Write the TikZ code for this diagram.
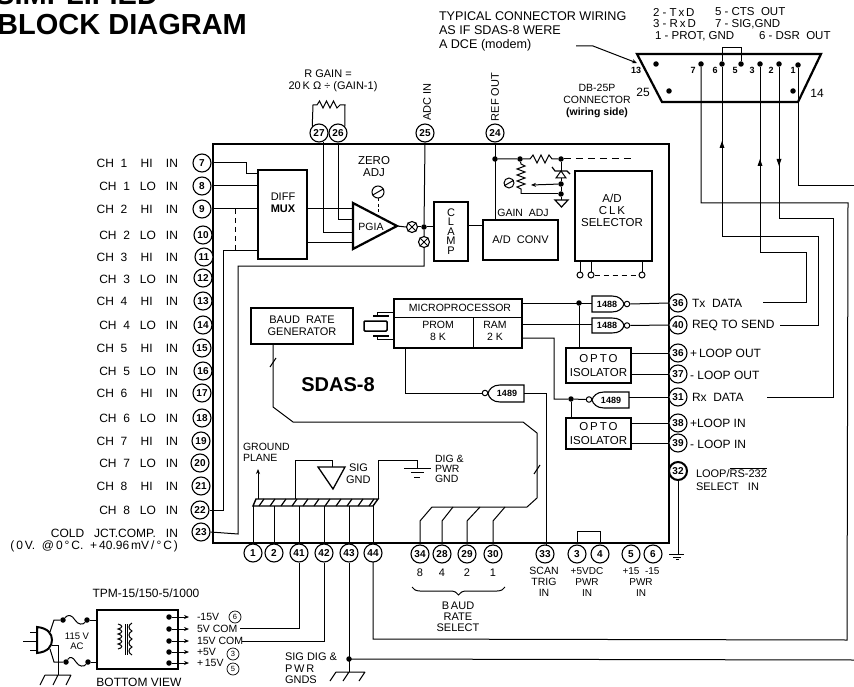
\documentclass[tikz,border=0pt]{standalone}
\usepackage{fontspec}
\setmainfont{Liberation Sans}
\usetikzlibrary{arrows.meta,decorations.pathreplacing}
\tikzset{
  wire/.style={line width=1pt,line join=miter},
  heavy/.style={line width=2.2pt,line join=miter},
  med/.style={line width=1.4pt,line join=miter},
  pin/.style={circle,draw,line width=1.1pt,fill=white,inner sep=0pt,minimum size=18pt,font=\fontsize{10}{10}\selectfont\bfseries},
  tinypin/.style={circle,draw,line width=0.7pt,inner sep=0pt,minimum size=12pt,font=\fontsize{7.5}{8}\selectfont},
  blk/.style={draw,line width=2pt,rectangle,inner sep=0pt,outer sep=0pt,align=center,font=\fontsize{11}{13}\selectfont},
  txt/.style={inner sep=0pt,outer sep=0pt,font=\fontsize{11}{12.5}\selectfont,align=center},
  lft/.style={txt,anchor=west,align=left},
  chlab/.style={txt,anchor=east,font=\fontsize{12}{13}\selectfont},
  rlab/.style={txt,anchor=west,align=left,font=\fontsize{12}{13}\selectfont},
  ann/.style={txt,anchor=west,align=left,font=\fontsize{12.6}{14}\selectfont},
  dot/.style={circle,fill,inner sep=0pt,minimum size=5.5pt},
  termc/.style={circle,draw,line width=1pt,inner sep=0pt,minimum size=6pt},
  xcirc/.style={circle,draw,line width=1.1pt,inner sep=0pt,minimum size=11pt},
  potc/.style={circle,draw,line width=1pt,inner sep=0pt,minimum size=12pt},
  arr/.style={wire,-{Stealth[length=5pt,width=4pt]}},
}
\newcommand{\chhi}[1]{CH\ \ #1\ \ \ \ HI\ \ \ \ IN}
\newcommand{\chlo}[1]{CH\ \ #1\ \ \ LO\ \ \ IN}
\begin{document}
\begin{tikzpicture}[x=1pt,y=-1pt]
\useasboundingbox (0,0) rectangle (854,687);
\clip (0,0) rectangle (854,687);
\fill[white] (0,0) rectangle (854,687);

% title
\node[inner sep=0,anchor=base west,font=\fontsize{29}{29}\selectfont\bfseries] (ttl1) at (-5,5) {SIMPLIFIED};
\node[inner sep=0,anchor=base west,font=\fontsize{29}{29}\selectfont\bfseries] (ttl2) at (-3,35) {BLOCK DIAGRAM};

% annotation
\node[ann] (a1) at (439,16) {TYPICAL CONNECTOR WIRING};
\node[ann] (a2) at (439,30) {AS IF SDAS-8 WERE};
\node[ann] (a3) at (439,45) {A DCE (modem)};
\foreach \n/\x/\y/\t in {l1/653/12/2 - T\,x\,D, l2/715/12/5 - CTS\ \ OUT, l3/653/24/3 - R\,x\,D, l4/715/24/7 - SIG{,}GND, l5/655/36/1 - PROT{,} GND, l6/759/36/6 - DSR\ \ OUT}
  \node[txt,anchor=west,font=\fontsize{11.5}{12}\selectfont] (\n) at (\x,\y) {\t};

% connector
\coordinate (cTL) at (637,54);
\coordinate (cTR) at (821,54);
\coordinate (cBR) at (798,102);
\coordinate (cBL) at (662,102);
\draw[heavy] (cTL) -- (cTR) -- (cBR) -- (cBL) -- cycle;
\foreach \n/\x/\y in {cd13/656/64,cp7/701/64,cp6/722/64,cp5/741/64,cp3/760/64,cp2/779/64,cp1/798/65,cd25/669/91,cd14/793/91}
  \node[dot] (\n) at (\x,\y) {};
\foreach \n/\x/\y/\t in {cn13/636/70/13,cn7/693/70/7,cn6/715/70/6,cn5/735/70/5,cn3/752/70/3,cn2/771/70/2,cn1/793/70/1}
  \node[txt,font=\fontsize{9}{9}\selectfont\bfseries] (\n) at (\x,\y) {\t};
\node[txt,font=\fontsize{12}{12}\selectfont] (cn25) at (643,92) {25};
\node[txt,font=\fontsize{12}{12}\selectfont] (cn14) at (817,93) {14};
\node[txt,font=\fontsize{10.5}{12}\selectfont] (dbt) at (597,101) {DB-25P\\CONNECTOR\\{\bfseries (wiring side)}};
\draw[wire] (cp6.north) -- (722,48) -- (741,48) -- (cp5.north);
\draw[arr] (576,46) -- (593,46) -- (cTL |- 0,63) ;

% wires from connector
\draw[wire] (cp1) -- (798,186) -- (854,186);
\draw[wire] (cp7) -- (701,203) -- (848,203) -- (847,640) -- (373,639) -- (373,562);
\draw[wire] (cp6) -- (722,237) -- (818,237) -- (818,325) -- (780,325);
\draw[wire] (cp3) -- (760,252) -- (806,252) -- (806,302) -- (763,302);
\draw[wire] (cp2) -- (779,219) -- (833,219) -- (833,397) -- (767,397);
\fill (722,141) -- (719.5,148) -- (724.5,148) -- cycle;
\fill (760,159) -- (757.5,166) -- (762.5,166) -- cycle;
\fill (779,166) -- (776.5,159) -- (781.5,159) -- cycle;
\draw[wire] (349,659) -- (854,660);

% main box
\node[draw,line width=2.6pt,rectangle,inner sep=0pt,outer sep=0pt,minimum width=456pt,minimum height=399pt] (main) at (441,343.5) {};

% pins
\foreach \n/\x/\y in {7/202/163,8/202/186,9/202/209,10/203/235,11/204/257,12/203/278,13/203/301,14/203/325,15/202/348,16/203/371,17/202/393,18/202/418,19/201/441,20/200/463,21/201/486,22/200/510,23/201/532,
  27/319/133,26/338/133,25/425/133,24/495/133,
  1/253/553,2/274/553,41/299/553,42/324/553,43/349/553,44/373/553,34/420/554,28/442/554,29/467/554,30/493/554,33/545/554,3/577/554,4/600/554,5/631/554,6/653/554,
  40/678/325,36/678/353,37/678/374,31/678/397,38/678/423,39/678/443}
  \node[pin] (p\n) at (\x,\y) {\n};
\node[pin] (p35) at (678,303) {36};
\node[pin,line width=2pt] (p32) at (678,471) {32};

% left labels
\foreach \n/\y/\t in {a/163/\chhi{1},b/186/\chlo{1},c/209/\chhi{2},d/235/\chlo{2},e/257/\chhi{3},f/279/\chlo{3},g/301/\chhi{4},h/325/\chlo{4},i/348/\chhi{5},j/371/\chlo{5},k/393/\chhi{6},m/418/\chlo{6},n/441/\chhi{7},o/463/\chlo{7},q/486/\chhi{8},r/510/\chlo{8},s/533/COLD\ \ \ JCT.COMP.\ \ \ IN,u/546/{(\,0\,V.\ \ @\,0\,°\,C.\ \ +\,40.96\,mV\,/\,°\,C\,)}}
  \node[chlab] (ll\n) at (178,\y) {\t};

% right labels
\foreach \n/\x/\y/\t in {ra/692/303/Tx\ \ DATA,rb/692/325/REQ\ TO\ SEND,rc/690/353/+\,LOOP\ OUT,rd/690/375/-\ LOOP\ OUT,re/692/397/Rx\ \ DATA,rf/690/423/+LOOP\ IN,rg/690/444/-\ LOOP\ IN}
  \node[rlab] (\n) at (\x,\y) {\t};
\node[rlab,font=\fontsize{11}{12.5}\selectfont] (rh) at (696,479) {LOOP/$\overline{\hbox{RS-232}}$\\SELECT\ \ \ IN};

% top labels
\node[txt] (rg1) at (328,74) {R GAIN =};
\node[txt] (rg2) at (333,87) {20\,K Ω ÷ (GAIN-1)};
\node[txt,rotate=90] (adcin) at (427,102) {ADC IN};
\node[txt,rotate=90] (refout) at (495,97) {REF OUT};

% R gain resistor
\draw[wire] (p27.135) -- (313,105) -- (317,105) -- (319.5,101) -- (323,108) -- (326.5,101) -- (330,108) -- (333.5,101) -- (337,108) -- (340,105) -- (345,105) -- (p26.45);

% diff mux
\node[blk] (mux) at (282.5,214.5) [minimum width=49pt,minimum height=89pt] {};
\node[txt,font=\fontsize{11}{12}\selectfont] (muxt) at (283,203) {DIFF\\\bfseries MUX};
\draw[wire] (p7.east) -- (246,163) -- (246,174) -- (mux.west |- 0,174);
\draw[wire] (p8.east) -- (p8.east -| mux.west);
\draw[wire] (p9.east) -- (p9.east -| mux.west);
\draw[wire,dashed,dash pattern=on 5pt off 4pt] (235,209) -- (235,250);
\draw[wire] (mux.west |- 0,250) -- (223,250) -- (223,510) -- (p22.east);
\draw[wire] (p23.east) -- (238,534) -- (238,266) -- (424,266) -- (424,248);

% PGIA
\coordinate (pgT) at (353,203);
\coordinate (pgB) at (353,249);
\coordinate (pgO) at (397,226);
\draw[heavy] (pgT) -- (pgB) -- (pgO) -- cycle;
\node[txt,font=\fontsize{10.5}{11}\selectfont] (pgia) at (371,227) {PGIA};
\draw[wire] (mux.east |- 0,209) -- (353,209);
\draw[wire] (mux.east |- 0,243) -- (353,243);
\draw[wire] (p26.south) -- (338,220) -- (353,220);
\draw[wire] (323,142) -- (323,233) -- (353,233);
\node[txt,font=\fontsize{11.5}{12}\selectfont] (zadj) at (374,167) {ZERO\\ADJ};
\node[potc] (zpot) at (378,192) {};
\draw[wire] (zpot.30) -- (zpot.210);
\draw[wire,dashed,dash pattern=on 3pt off 2.5pt] (zpot.south) -- (378,212);

% X nodes
\node[xcirc] (x1) at (412,227) {};
\node[xcirc] (x2) at (424,242) {};
\draw[wire] (x1.45) -- (x1.225) (x1.135) -- (x1.315) (x2.45) -- (x2.225) (x2.135) -- (x2.315);
\draw[wire] (pgO) -- (x1.west);
\node[dot] (jx) at (424,227) {};
\draw[wire] (x1.east) -- (jx);
\draw[wire] (p25.south) -- (jx) -- (x2.north);

% clamp
\node[blk,minimum width=34pt,minimum height=59pt,font=\fontsize{11}{9.4}\selectfont] (clamp) at (451,231.5) {C\\L\\A\\M\\P};
\draw[wire] (jx) -- (clamp.west |- jx);
% A/D
\node[blk,minimum width=75pt,minimum height=40pt,font=\fontsize{11}{13}\selectfont] (adc) at (520.5,240) {A/D\ \ CONV};
\draw[wire] (clamp.east |- 0,226) -- (adc.west |- 0,226);
\node[txt,font=\fontsize{10.5}{12}\selectfont] (gadj) at (523,213) {GAIN\ \ ADJ};
\draw[wire] (p24.south) -- (adc.north -| p24.south);
\node[dot] (j24) at (495,159) {};
\node[dot] (j2) at (520,159) {};
\node[dot] (j3) at (561,159) {};
\draw[wire] (j24) -- (j2) -- (530,159) -- (533,155) -- (537,163) -- (541,155) -- (545,163) -- (549,155) -- (552,159) -- (j3);
\draw[wire,dashed,dash pattern=on 7pt off 5pt] (j3) -- (635,159);
\draw[wire] (j2) -- (521,164) -- (525,166) -- (517,169) -- (525,172) -- (517,175) -- (525,178) -- (517,181) -- (525,184) -- (517,187) -- (521,189) -- (521,194);
\node[potc,minimum size=10pt] (gpot) at (509,183) {};
\draw[wire] (gpot.30) -- (gpot.210);
\node[dot] (j5) at (561,184) {};
\node[dot] (j6) at (561,194) {};
\draw[wire] (521,194) -- (j6);
\draw[arr] (j5) -- (531,185);
\draw[wire] (j3) -- (561,171);
\draw[wire,fill=white,line width=1pt] (556,178) -- (566,178) -- (561,171) -- cycle;
\draw[wire,line width=1.2pt] (552,167) -- (555,171) -- (567,171) -- (570,174);
\draw[wire] (561,178) -- (j5) -- (j6) -- (561,200);
\draw[wire,line width=1.2pt] (555,200) -- (568,200) -- (561.5,207) -- cycle;

% clk selector
\node[blk,minimum width=77pt,minimum height=90pt] (clk) at (613.5,216) {};
\node[txt,font=\fontsize{11.5}{12}\selectfont] (clkt) at (612,210) {A/D\\C\,L\,K\\SELECTOR};
\node[termc] (t1) at (580,275) {};
\node[termc] (t2) at (591,275) {};
\node[termc] (t3) at (642,275) {};
\draw[wire] (t1.north) -- (t1.north |- clk.south);
\draw[wire] (t2.north) -- (t2.north |- clk.south);
\draw[wire] (t3.north) -- (t3.north |- clk.south);
\draw[wire,dashed,dash pattern=on 5pt off 4pt] (t2.east) -- (t3.west);

% baud rate generator
\node[blk,minimum width=102pt,minimum height=36pt] (baud) at (302,326) {};
\node[txt,font=\fontsize{11}{12}\selectfont] (baudt) at (302,325.5) {BAUD\ \ RATE\\GENERATOR};
% microprocessor
\node[draw,line width=2pt,rectangle,inner sep=0pt,outer sep=0pt,minimum width=128pt,minimum height=49pt] (mp) at (458,323.5) {};
\draw[wire] (mp.west |- 0,317) -- (mp.east |- 0,317);
\draw[wire,line width=1pt] (473,317) -- (473,348);
\node[txt,font=\fontsize{10.5}{12}\selectfont] (mpt) at (460,308) {MICROPROCESSOR};
\node[txt,font=\fontsize{10.5}{12}\selectfont] (prom) at (438,331) {PROM\\8 K};
\node[txt,font=\fontsize{10.5}{12}\selectfont] (ram) at (495,331) {RAM\\2 K};
% crystal
\draw[line width=1.5pt,rounded corners=1pt] (364,321) rectangle (387,331);
\draw[wire,line width=1.1pt] (373,316) -- (389,316) (373,336) -- (389,336);
\draw[wire] (377,316) -- (377,312) -- (mp.west |- 0,312);
\draw[wire] (377,336) -- (377,339) -- (mp.west |- 0,339);

\node[txt,font=\fontsize{20}{20}\selectfont\bfseries] (sdas) at (338,385) {SDAS-8};

% 1488 gates
\draw[wire,line width=1.1pt] (592,296) -- (612,296) .. controls (619,296) and (623,300) .. (624,304) .. controls (623,308) and (619,312) .. (612,312) -- (592,312) -- cycle;
\draw[wire,line width=1.1pt] (592,318) -- (612,318) .. controls (619,318) and (623,321) .. (624,325.5) .. controls (623,330) and (619,333) .. (612,333) -- (592,333) -- cycle;
\node[txt,font=\fontsize{9}{9}\selectfont\bfseries] (g1t) at (607,304) {1488};
\node[txt,font=\fontsize{9}{9}\selectfont\bfseries] (g2t) at (607,325.5) {1488};
\node[termc,minimum size=5.5pt] (g1b) at (627,304) {};
\node[termc,minimum size=5.5pt] (g2b) at (627,325.5) {};
\draw[wire] (mp.east |- 0,303) -- (592,303);
\node[dot] (j7) at (579,303) {};
\draw[wire] (mp.east |- 0,324) -- (592,324);
\draw[wire] (g1b.east) -- (p35.west);
\draw[wire] (g2b.east) -- (p40.west);
% opto
\node[blk,minimum width=65pt,minimum height=35pt,font=\fontsize{11.5}{14}\selectfont] (op1) at (598.5,365.5) {O\,P\,T\,O\\ISOLATOR};
\node[blk,minimum width=65pt,minimum height=31pt,font=\fontsize{11.5}{14}\selectfont] (op2) at (598.5,433.5) {O\,P\,T\,O\\ISOLATOR};
\draw[wire] (j7) -- (j7 |- op1.north);
\draw[wire] (op1.east |- p36) -- (p36.west);
\draw[wire] (op1.east |- p37) -- (p37.west);
\draw[wire] (op2.east |- p38) -- (p38.west);
\draw[wire] (op2.east |- p39) -- (p39.west);
% 1489 right
\draw[wire,line width=1.1pt] (629,392) -- (604,392) .. controls (597,392) and (593,396) .. (592,400) .. controls (593,404) and (597,408) .. (604,408) -- (629,408) -- cycle;
\node[txt,font=\fontsize{9}{9}\selectfont\bfseries] (g3t) at (611,400) {1489};
\node[termc,minimum size=5.5pt] (g3b) at (589,399.5) {};
\node[dot] (j8) at (571,399) {};
\draw[wire] (mp.east |- 0,338) -- (554,338) -- (554,399) -- (j8) -- (g3b.west);
\draw[wire] (j8) -- (j8 |- op2.north);
\draw[wire] (629,397) -- (p31.west);
% 1489 left
\draw[wire,line width=1.1pt] (524,385) -- (500,385) .. controls (493,385) and (489,389) .. (488,393.5) .. controls (489,398) and (493,402) .. (500,402) -- (524,402) -- cycle;
\node[txt,font=\fontsize{9}{9}\selectfont\bfseries] (g4t) at (507,393) {1489};
\node[termc,minimum size=5.5pt] (g4b) at (485,393) {};
\draw[wire] (mp.south -| 405,0) -- (405,393) -- (g4b.west);
\draw[wire] (524,393) -- (546,393) -- (546,545);

% baud wires
\draw[wire] (baud.south -| 273,0) -- (273,407) -- (293,422) -- (523,422) -- (537,433) -- (537,498) -- (527,507) -- (432,507) -- (420,521) -- (p34.north);
\draw[wire] (453,507) -- (442,521) -- (p28.north);
\draw[wire] (480,507) -- (467,521) -- (p29.north);
\draw[wire] (505,507) -- (493,521) -- (p30.north);
\draw[wire] (270,367) -- (276,358);
\draw[wire] (534,474) -- (540,465);

% ground bus
\draw[med] (253,506) -- (256,499) -- (378,499) -- (373,506) -- cycle;
\foreach \hx in {259,270,281,292,303,314,325,336,347,358,369}
  \draw[wire,line width=1.2pt] (\hx,506) -- (\hx+5,499);
\foreach \n in {1,2,41,42,43,44}
  \draw[wire] (p\n.north) -- (p\n.north |- 0,506);
\draw[arr] (258,499) -- (258,469);
\node[txt,anchor=west,align=left,font=\fontsize{10.5}{11.5}\selectfont] (gp) at (243,452.5) {GROUND\\PLANE};
\draw[wire] (295,499) -- (295,460) -- (332,460) -- (332,467);
\draw[line width=1.3pt] (318,467) -- (345,467) -- (333,489) -- cycle;
\node[txt,anchor=west,align=left,font=\fontsize{11}{12}\selectfont] (sg) at (346,474) {\ SIG\\GND};
\draw[wire] (378,499) -- (378,460) -- (417,460) -- (417,468);
\draw[wire] (404,468) -- (431,468) (411,472) -- (424,472) (414,477) -- (420,477);
\node[txt,anchor=west,align=left,font=\fontsize{10.5}{10.2}\selectfont] (dg) at (435,469) {DIG \&\\PWR\\GND};

% pin 3-4 link
\draw[wire] (p3.north |- 0,543) -- (577,531) -- (600,531) -- (p4.north |- 0,543);

% pin 32 ground
\draw[wire] (p32.south) -- (678,554);
\draw[wire] (669,554) -- (684,554) (673,557) -- (681,557) (676,559) -- (679,559);

% bottom labels
\foreach \n/\x/\t in {b8/420/8,b4/442/4,b2/467/2,b1/493/1}
  \node[txt,font=\fontsize{11}{11}\selectfont] (\n) at (\x,573) {\t};
\draw[wire,line width=1pt,decorate,decoration={brace,mirror,amplitude=8pt,raise=0pt}] (412,587) -- (505,587);
\node[txt,font=\fontsize{11}{11.2}\selectfont] (brs) at (458,617) {B\,AUD\\RATE\\SELECT};
\node[txt,font=\fontsize{10.5}{11}\selectfont] (scan) at (544,582) {SCAN\\TRIG\\IN};
\node[txt,font=\fontsize{10}{11}\selectfont] (v5) at (587,582) {+5VDC\\PWR\\IN};
\node[txt,font=\fontsize{10}{11}\selectfont] (v15) at (641,582) {+15\ \ -15\\PWR\\IN};

% pin 41-43 wires
\draw[wire,line width=1pt] (p41.south) -- (299,628) -- (240,628);
\draw[wire,line width=1pt] (p42.south) -- (324,641) -- (242,641);
\node[dot] (j43) at (349,659) {};
\draw[wire,line width=1pt] (p43.south) -- (349,672);
\draw[wire] (336,672) -- (365,672) (336,672) -- (330,681) (349,672) -- (343,681) (365,672) -- (359,681);
\node[txt,anchor=west,align=left,font=\fontsize{11}{11.5}\selectfont] (sdg) at (285,668.5) {SIG DIG \&\\P\,W\,R\\GNDS};

% TPM
\node[txt,font=\fontsize{12}{12}\selectfont] (tpmt) at (146,593) {TPM-15/150-5/1000};
\node[draw,line width=2pt,rectangle,inner sep=0,outer sep=0,minimum width=81pt,minimum height=59pt] (tpm) at (137.5,639.5) {};
\node[txt,font=\fontsize{12}{12}\selectfont] (bv) at (139,682) {BOTTOM VIEW};
\node[txt,font=\fontsize{9.5}{10.5}\selectfont] (ac) at (77,641.5) {115 V\\AC};
% transformer
\draw[line width=1pt] (125,624) -- (125,655) (127.5,624) -- (127.5,655);
\draw[line width=1pt] (118,624) .. controls (123,625) and (123,628) .. (118,629) .. controls (123,630) and (123,633) .. (118,634) .. controls (123,635) and (123,638) .. (118,639) .. controls (123,640) and (123,643) .. (118,644) .. controls (123,645) and (123,648) .. (118,649);
\draw[line width=1pt] (132,623) .. controls (128,625) and (128,629) .. (132,631) .. controls (128,633) and (128,637) .. (132,639) .. controls (128,641) and (128,645) .. (132,647) .. controls (128,649) and (128,653) .. (132,655);
% outputs
\foreach \n/\y/\t in {o1/617/-15V,o2/629/5V COM,o3/641/15V COM,o4/652/+5V,o5/663/+\,15V}{
  \node[dot] (d\n) at (169,\y) {};
  \draw[arr,line width=1pt] (d\n) -- (189,\y);
  \node[txt,anchor=west,font=\fontsize{10.5}{11}\selectfont] (\n) at (197,\y) {\t};
}
\node[tinypin] (s6) at (235,617) {6};
\node[tinypin] (s3) at (233,654) {3};
\node[tinypin] (s5) at (233,669) {5};
% plug
\draw[line width=2pt] (37,627) .. controls (48,628) and (52,634) .. (52,640) .. controls (52,646) and (48,652) .. (37,653) -- cycle;
\draw[wire] (23,641) -- (37,641) (30,632) -- (37,632) (30,650) -- (37,650);
% mains wires
\node[dot] (m1) at (63,620) {};
\node[dot] (m2) at (87,620) {};
\node[dot] (m3) at (66,662) {};
\node[dot] (m4) at (88,662) {};
\draw[wire] (50,632) -- (54,620) -- (m1);
\draw[wire,line width=1pt] (m1) .. controls (68,614) and (72,615) .. (75,620) .. controls (78,625) and (83,625) .. (m2);
\draw[wire] (m2) -- (tpm.west |- m2);
\draw[wire] (50,649) -- (54,662) -- (m3);
\draw[wire,line width=1pt] (m3) .. controls (70,656) and (73,657) .. (76,662) .. controls (79,667) and (84,667) .. (m4);
\draw[wire] (m4) -- (tpm.west |- m4);
\draw[wire] (52,645) -- (58,645) -- (58,675);
\draw[wire] (45,675) -- (71,675) (45,675) -- (40,685) (58,675) -- (53,685) (71,675) -- (66,685);
\end{tikzpicture}
\end{document}
